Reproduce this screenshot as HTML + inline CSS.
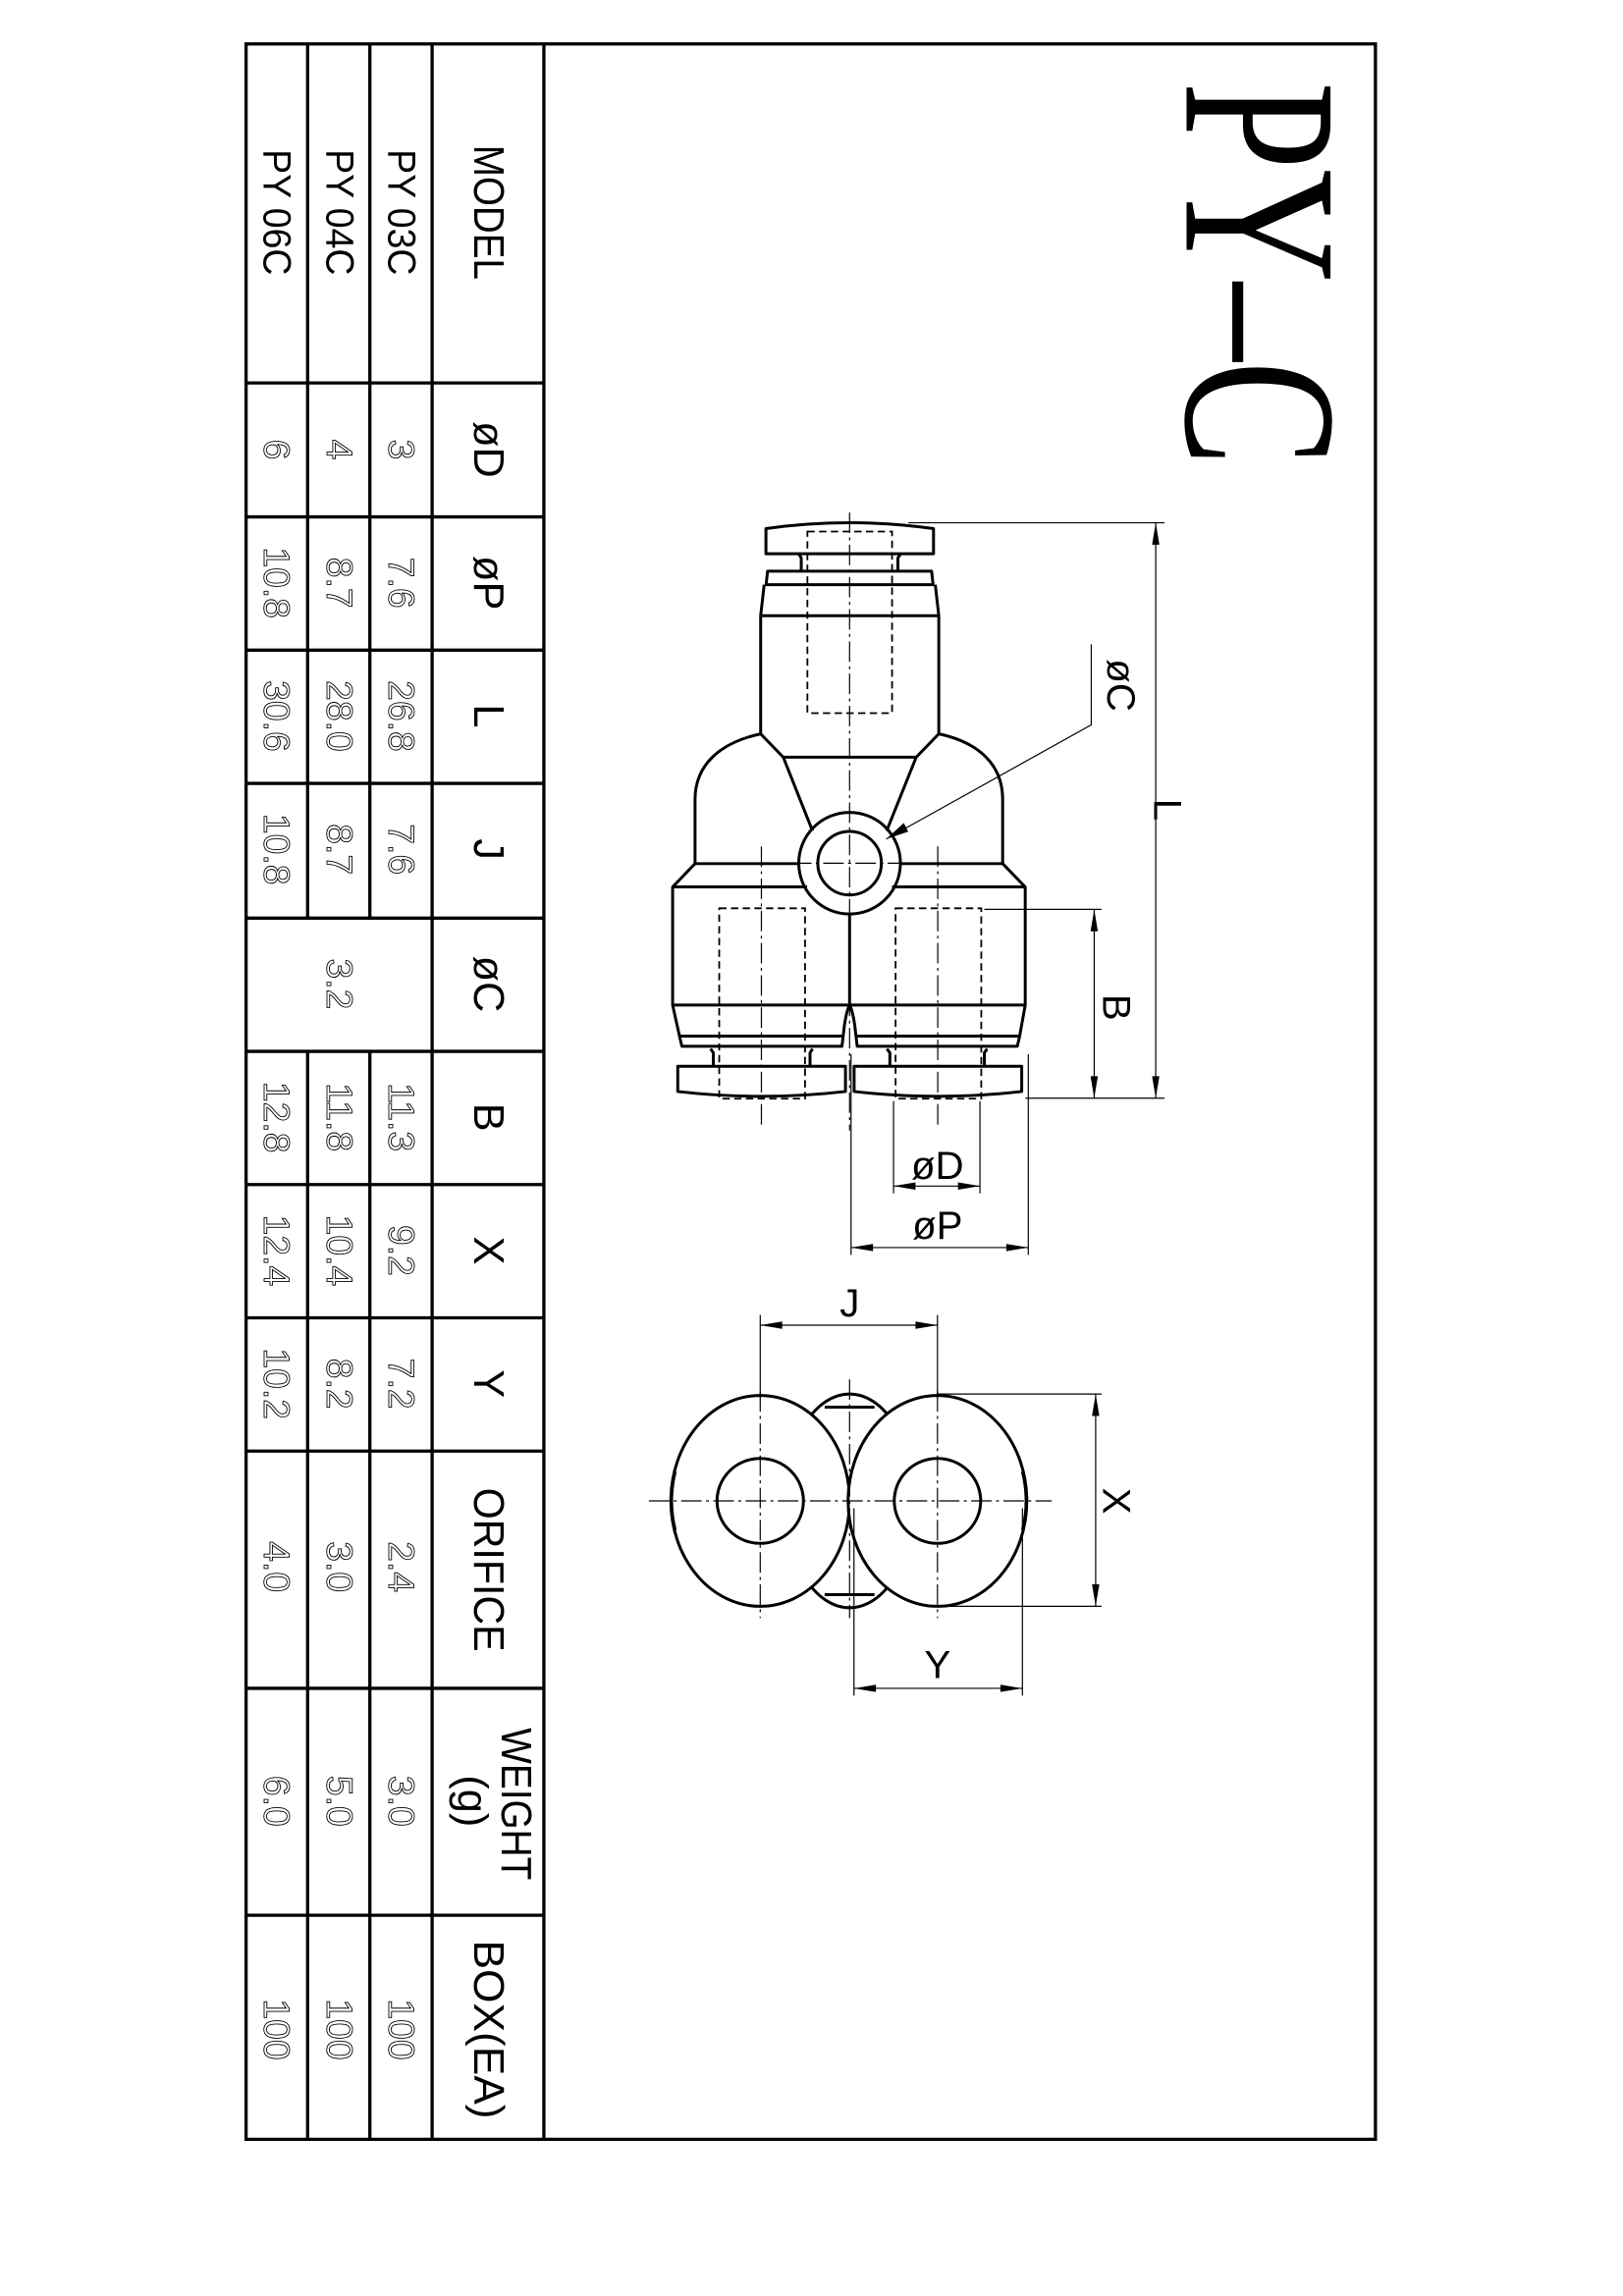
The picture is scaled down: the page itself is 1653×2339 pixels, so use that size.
<!DOCTYPE html>
<html><head><meta charset="utf-8"><style>
html,body{margin:0;padding:0;background:#fff;}
svg{display:block;}
.h{font-family:"Liberation Sans",sans-serif;font-size:29px;fill:#000;}
.m{font-family:"Liberation Sans",sans-serif;font-size:27px;fill:#000;}
.v{font-family:"Liberation Sans",sans-serif;font-size:25px;fill:#fff;stroke:#000;stroke-width:0.6;}
.d{font-family:"Liberation Sans",sans-serif;font-size:27px;fill:#000;}
</style></head><body>
<svg width="1653" height="2339" viewBox="0 0 1108 1568" preserveAspectRatio="none" xmlns="http://www.w3.org/2000/svg">
<rect x="0" y="0" width="1108" height="1568" fill="#fff"/>
<g stroke="#000" stroke-width="2.2" fill="none">
<rect x="168" y="30" width="771" height="1431"/>
<line x1="371.3" y1="30" x2="371.3" y2="1461"/>
<line x1="295" y1="30" x2="295" y2="1461"/>
<line x1="252.5" y1="30" x2="252.5" y2="627"/><line x1="252.5" y1="718" x2="252.5" y2="1461"/>
<line x1="210" y1="30" x2="210" y2="627"/><line x1="210" y1="718" x2="210" y2="1461"/>
<line x1="168" y1="261.5" x2="371.3" y2="261.5"/>
<line x1="168" y1="353" x2="371.3" y2="353"/>
<line x1="168" y1="444" x2="371.3" y2="444"/>
<line x1="168" y1="535" x2="371.3" y2="535"/>
<line x1="168" y1="627" x2="371.3" y2="627"/>
<line x1="168" y1="718" x2="371.3" y2="718"/>
<line x1="168" y1="809" x2="371.3" y2="809"/>
<line x1="168" y1="900" x2="371.3" y2="900"/>
<line x1="168" y1="991" x2="371.3" y2="991"/>
<line x1="168" y1="1153" x2="371.3" y2="1153"/>
<line x1="168" y1="1308" x2="371.3" y2="1308"/>
</g>
<g class="h" text-anchor="middle" dominant-baseline="central">
<text transform="translate(333,145) rotate(90)" textLength="92" lengthAdjust="spacingAndGlyphs">MODEL</text>
<text transform="translate(333,307) rotate(90)">øD</text>
<text transform="translate(333,398) rotate(90)">øP</text>
<text transform="translate(333,489) rotate(90)">L</text>
<text transform="translate(333,580) rotate(90)">J</text>
<text transform="translate(333,672) rotate(90)">øC</text>
<text transform="translate(333,763) rotate(90)">B</text>
<text transform="translate(333,854) rotate(90)">X</text>
<text transform="translate(333,945) rotate(90)">Y</text>
<text transform="translate(333,1072) rotate(90)" textLength="112" lengthAdjust="spacingAndGlyphs">ORIFICE</text>
<text transform="translate(352,1232) rotate(90)" textLength="104" lengthAdjust="spacingAndGlyphs">WEIGHT</text>
<text transform="translate(322,1230) rotate(90)">(g)</text>
<text transform="translate(333,1386) rotate(90)" textLength="122" lengthAdjust="spacingAndGlyphs">BOX(EA)</text>
</g>
<g class="m" text-anchor="middle" dominant-baseline="central">
<text transform="translate(274,145) rotate(90)" textLength="86" lengthAdjust="spacingAndGlyphs">PY 03C</text>
<text transform="translate(232,145) rotate(90)" textLength="86" lengthAdjust="spacingAndGlyphs">PY 04C</text>
<text transform="translate(189,145) rotate(90)" textLength="86" lengthAdjust="spacingAndGlyphs">PY 06C</text>
</g>
<g class="v" text-anchor="middle" dominant-baseline="central">
<text transform="translate(274,307) rotate(90)">3</text>
<text transform="translate(274,398) rotate(90)">7.6</text>
<text transform="translate(274,489) rotate(90)">26.8</text>
<text transform="translate(274,580) rotate(90)">7.6</text>
<text transform="translate(274,763) rotate(90)">11.3</text>
<text transform="translate(274,854) rotate(90)">9.2</text>
<text transform="translate(274,945) rotate(90)">7.2</text>
<text transform="translate(274,1070) rotate(90)">2.4</text>
<text transform="translate(274,1230) rotate(90)">3.0</text>
<text transform="translate(274,1386) rotate(90)">100</text>
<text transform="translate(232,307) rotate(90)">4</text>
<text transform="translate(232,398) rotate(90)">8.7</text>
<text transform="translate(232,489) rotate(90)">28.0</text>
<text transform="translate(232,580) rotate(90)">8.7</text>
<text transform="translate(232,672) rotate(90)">3.2</text>
<text transform="translate(232,763) rotate(90)">11.8</text>
<text transform="translate(232,854) rotate(90)">10.4</text>
<text transform="translate(232,945) rotate(90)">8.2</text>
<text transform="translate(232,1070) rotate(90)">3.0</text>
<text transform="translate(232,1230) rotate(90)">5.0</text>
<text transform="translate(232,1386) rotate(90)">100</text>
<text transform="translate(189,307) rotate(90)">6</text>
<text transform="translate(189,398) rotate(90)">10.8</text>
<text transform="translate(189,489) rotate(90)">30.6</text>
<text transform="translate(189,580) rotate(90)">10.8</text>
<text transform="translate(189,763) rotate(90)">12.8</text>
<text transform="translate(189,854) rotate(90)">12.4</text>
<text transform="translate(189,945) rotate(90)">10.2</text>
<text transform="translate(189,1070) rotate(90)">4.0</text>
<text transform="translate(189,1230) rotate(90)">6.0</text>
<text transform="translate(189,1386) rotate(90)">100</text>
</g>
<text transform="translate(860,187) rotate(90)" text-anchor="middle" dominant-baseline="central" font-family="'Liberation Serif',serif" font-size="150" textLength="262" lengthAdjust="spacingAndGlyphs">PY–C</text>

<g stroke="#000" stroke-width="1.2" fill="none" stroke-dasharray="5 3">
<rect x="551.2" y="363" width="57.8" height="124"/>
<rect x="491" y="620.3" width="58.6" height="130"/>
<rect x="611.4" y="620.3" width="58.5" height="130"/>
</g>
<g stroke="#000" stroke-width="0.8" fill="none" stroke-dasharray="14 3 2 3">
<line x1="580" y1="350" x2="580" y2="772"/>
<line x1="519.8" y1="578" x2="519.8" y2="770"/>
<line x1="640.2" y1="578" x2="640.2" y2="770"/>
<line x1="540" y1="589.5" x2="620" y2="589.5"/>
</g>
<g stroke="#000" stroke-width="2" fill="none" stroke-linejoin="round">
<path d="M522.9 378.2 L522.9 361 Q580 353 637.3 361 L637.3 378.2 Z"/>
<path d="M545.3 378.2 L547 381 L547 390.1 M614.9 378.2 L613 381 L613 390.1"/>
<path d="M524 390.1 L636 390.1 L637 399.3 L523 399.3 Z"/>
<path d="M521.7 399.3 L519.3 420.5 L519.3 501.2 M638.5 399.3 L640.9 420.5 L640.9 501.2"/>
<line x1="519.3" y1="420.5" x2="640.9" y2="420.5"/>
<path d="M519.3 501.2 C492 507 474.5 522 474.5 546 L474.5 589.8 L459.2 605.7 L459.2 686.4 L463.9 707.6 L465.5 714.5 L574.8 714.5 L576.5 700 Q578 690 580 686.4 Q582 690 583.5 700 L585.2 714.5 L694.5 714.5 L696.1 707.6 L699.9 686.4 L699.9 605.7 L684.5 589.8 L684.5 546 C684.5 522 668 507 640.9 501.2"/>
<path d="M519.3 501.2 L534.7 517.1 L554.7 567.4 M640.9 501.2 L625.5 517.1 L605.3 567.4"/>
<line x1="534.7" y1="517.1" x2="625.5" y2="517.1"/>
<line x1="474.5" y1="589.8" x2="546" y2="589.8"/><line x1="614" y1="589.8" x2="684.5" y2="589.8"/>
<line x1="459.2" y1="605.7" x2="551" y2="605.7"/><line x1="609" y1="605.7" x2="699.9" y2="605.7"/>
<line x1="580" y1="624.2" x2="580" y2="686.4"/>
<line x1="459.2" y1="686.4" x2="699.9" y2="686.4"/>
<line x1="463.9" y1="707.6" x2="575.5" y2="707.6"/><line x1="584.5" y1="707.6" x2="696.1" y2="707.6"/>
<path d="M485.1 716.3 L487 719 L487 728.2 M554.7 716.3 L553 719 L553 728.2"/>
<path d="M605.5 716.3 L607.5 719 L607.5 728.2 M673.9 716.3 L672 719 L672 728.2"/>
<path d="M462.7 728.2 L577.2 728.2 L577.2 745.4 Q520 752 462.7 745.4 Z"/>
<path d="M583.1 728.2 L697.5 728.2 L697.5 745.4 Q640 752 583.1 745.4 Z"/>
<circle cx="580" cy="589.5" r="34.7"/>
<circle cx="580" cy="589.5" r="21.7"/>
</g>
<g stroke="#000" stroke-width="0.8" fill="none">
<line x1="620" y1="357" x2="795" y2="357"/>
<line x1="700" y1="750" x2="795" y2="750"/>
<line x1="789" y1="357" x2="789" y2="750"/>
<line x1="672" y1="621" x2="752" y2="621"/>
<line x1="747" y1="621" x2="747" y2="750"/>
<path d="M745 440 L745 495 L605 573"/>
<line x1="610" y1="752" x2="610" y2="815"/>
<line x1="669" y1="752" x2="669" y2="815"/>
<line x1="610" y1="810" x2="669" y2="810"/>
<line x1="581" y1="720" x2="581" y2="857"/>
<line x1="702" y1="720" x2="702" y2="857"/>
<line x1="581" y1="852" x2="702" y2="852"/>
</g>
<g fill="#000">
<polygon points="789,357 786.5,372 791.5,372"/>
<polygon points="789,750 786.5,735 791.5,735"/>
<polygon points="747,621 744.5,636 749.5,636"/>
<polygon points="747,750 744.5,735 749.5,735"/>
<polygon points="605,573 617,562 620,568"/>
<polygon points="610,810 625,807.5 625,812.5"/>
<polygon points="669,810 654,807.5 654,812.5"/>
<polygon points="581,852 596,849.5 596,854.5"/>
<polygon points="702,852 687,849.5 687,854.5"/>
</g>
<g class="d" text-anchor="middle" dominant-baseline="central">
<text transform="translate(797,553) rotate(90)">L</text>
<text transform="translate(762,688) rotate(90)">B</text>
<text transform="translate(765,468) rotate(90)">øC</text>
<text x="640" y="796">øD</text>
<text x="640" y="837">øP</text>
<text x="580" y="890">J</text>
<text transform="translate(762,1025) rotate(90)">X</text>
<text x="640" y="1137">Y</text>
</g>

<g stroke="#000" stroke-width="2" fill="#fff">
<ellipse cx="580" cy="1025" rx="44" ry="73"/>
</g>
<g stroke="#000" stroke-width="2">
<line x1="563" y1="961" x2="597" y2="961"/>
<line x1="563" y1="1089" x2="597" y2="1089"/>
<line x1="578" y1="1013" x2="578" y2="1037"/><line x1="582" y1="1013" x2="582" y2="1037"/>
</g>
<g stroke="#000" stroke-width="2" fill="#fff">
<ellipse cx="519" cy="1025" rx="61" ry="72"/>
<ellipse cx="640" cy="1025" rx="61" ry="72"/>
<ellipse cx="519" cy="1025" rx="29.5" ry="29"/>
<ellipse cx="640" cy="1025" rx="29.5" ry="29"/>
</g>
<g stroke="#000" stroke-width="2" fill="none">
<path d="M461 1005 Q456 1025 461 1045"/>
<path d="M698 1005 Q703 1025 698 1045"/>
</g>
<g stroke="#000" stroke-width="0.8" fill="none" stroke-dasharray="14 3 2 3">
<line x1="443" y1="1025" x2="718" y2="1025"/>
<line x1="519" y1="950" x2="519" y2="1105"/>
<line x1="640" y1="950" x2="640" y2="1105"/>
<line x1="580" y1="942" x2="580" y2="1105"/>
</g>
<g stroke="#000" stroke-width="0.8" fill="none">
<line x1="519" y1="898" x2="519" y2="955"/>
<line x1="640" y1="898" x2="640" y2="955"/>
<line x1="519" y1="905" x2="640" y2="905"/>
<line x1="640" y1="952" x2="752" y2="952"/>
<line x1="640" y1="1097" x2="752" y2="1097"/>
<line x1="748" y1="952" x2="748" y2="1097"/>
<line x1="583" y1="1030" x2="583" y2="1158"/>
<line x1="698" y1="1030" x2="698" y2="1158"/>
<line x1="583" y1="1153" x2="698" y2="1153"/>
</g>
<g fill="#000">
<polygon points="519,905 534,902.5 534,907.5"/>
<polygon points="640,905 625,902.5 625,907.5"/>
<polygon points="748,952 745.5,967 750.5,967"/>
<polygon points="748,1097 745.5,1082 750.5,1082"/>
<polygon points="583,1153 598,1150.5 598,1155.5"/>
<polygon points="698,1153 683,1150.5 683,1155.5"/>
</g>
</svg>
</body></html>
